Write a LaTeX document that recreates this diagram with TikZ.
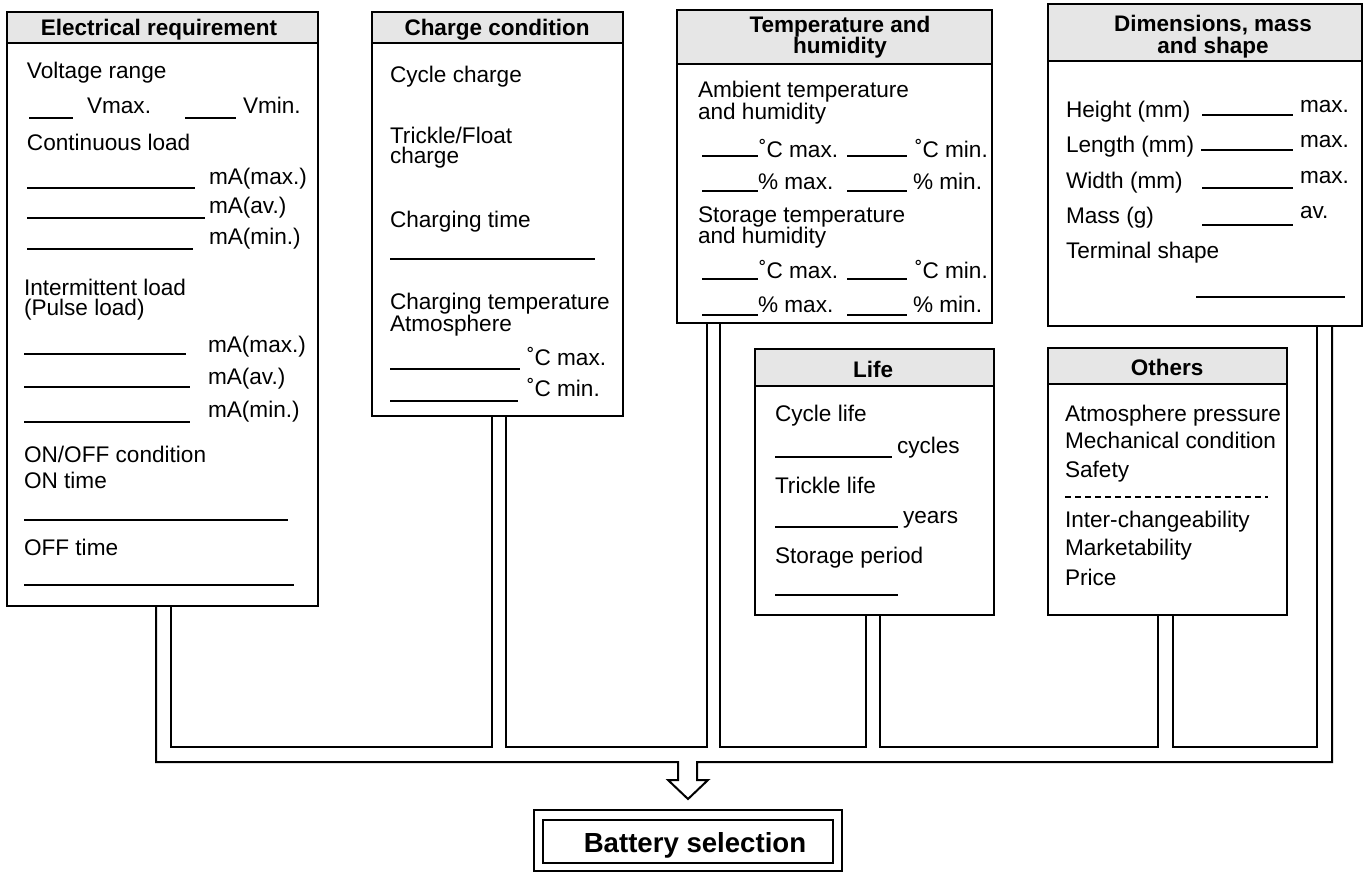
\documentclass[tikz,border=0pt]{standalone}
\usepackage{fontspec}
\setmainfont{Liberation Sans}
\usetikzlibrary{fit}
\definecolor{hdrgray}{HTML}{E6E6E6}
\begin{document}
\begin{tikzpicture}[x=1pt,y=-1pt,
  panel/.style={draw, line width=2.4pt, inner sep=0pt},
  hdrbox/.style={draw, fill=hdrgray, line width=2.4pt, inner sep=0pt},
  htxt/.style={font=\bfseries\fontsize{22.5}{24}\selectfont, anchor=base, inner sep=0pt},
  txt/.style={font=\fontsize{22.6}{24}\selectfont, anchor=base west, inner sep=0pt},
  blank/.style={line width=1.7pt},
  pipe/.style={line width=2pt},
  every node/.append style={outer sep=0pt}]
\useasboundingbox (0,0) rectangle (1367,873);

% ---------- pipes ----------
\draw[pipe] (156,606) -- (156,762) -- (678,762) -- (678,780) -- (668,780) -- (688,799)
  -- (708,780) -- (697,780) -- (697,762) -- (1332,762) -- (1332,326);
\draw[pipe] (171,606) -- (171,747) -- (492,747) -- (492,416);
\draw[pipe] (506,416) -- (506,747) -- (707,747) -- (707,323);
\draw[pipe] (720,323) -- (720,747) -- (866,747) -- (866,615);
\draw[pipe] (880,615) -- (880,747) -- (1158,747) -- (1158,615);
\draw[pipe] (1173,615) -- (1173,747) -- (1317,747) -- (1317,326);

% ---------- Electrical requirement ----------
\node[hdrbox, fit={(7,12) (318,43)}] (elecH) {};
\node[panel, fit={(7,12) (318,606)}] (elec) {};
\node[htxt] (elecT) at (159,35) {Electrical requirement};
\node[txt] (e1) at (27,78) {Voltage range};
\draw[blank] (29,118) -- (73,118);
\node[txt] (e2) at (87,113) {Vmax.};
\draw[blank] (185,118) -- (236,118);
\node[txt] (e3) at (243,113) {Vmin.};
\node[txt] (e4) at (27,150) {Continuous load};
\draw[blank] (27,188) -- (195,188);
\node[txt] (e5) at (209,184) {mA(max.)};
\draw[blank] (27,218) -- (205,218);
\node[txt] (e6) at (209,213) {mA(av.)};
\draw[blank] (27,249) -- (193,249);
\node[txt] (e7) at (209,244) {mA(min.)};
\node[txt] (e8) at (24,295) {Intermittent load};
\node[txt] (e9) at (24,315) {(Pulse load)};
\draw[blank] (24,354) -- (186,354);
\node[txt] (e10) at (208,352) {mA(max.)};
\draw[blank] (24,387) -- (190,387);
\node[txt] (e11) at (208,384) {mA(av.)};
\draw[blank] (24,422) -- (190,422);
\node[txt] (e12) at (208,417) {mA(min.)};
\node[txt] (e13) at (24,462) {ON/OFF condition};
\node[txt] (e14) at (24,488) {ON time};
\draw[blank] (24,520) -- (288,520);
\node[txt] (e15) at (24,555) {OFF time};
\draw[blank] (24,585) -- (294,585);

% ---------- Charge condition ----------
\node[hdrbox, fit={(372,12) (623,43)}] (chgH) {};
\node[panel, fit={(372,12) (623,416)}] (chg) {};
\node[htxt] (chgT) at (497,35) {Charge condition};
\node[txt] (c1) at (390,82) {Cycle charge};
\node[txt] (c2) at (390,143) {Trickle/Float};
\node[txt] (c3) at (390,163) {charge};
\node[txt] (c4) at (390,227) {Charging time};
\draw[blank] (390,259) -- (595,259);
\node[txt] (c5) at (390,309) {Charging temperature};
\node[txt] (c6) at (390,331) {Atmosphere};
\draw[blank] (390,369) -- (520,369);
\node[txt] (c7) at (527,365) {˚C max.};
\draw[blank] (390,401) -- (518,401);
\node[txt] (c8) at (527,396) {˚C min.};

% ---------- Temperature and humidity ----------
\node[hdrbox, fit={(677,10) (992,64)}] (tmpH) {};
\node[panel, fit={(677,10) (992,323)}] (tmp) {};
\node[htxt] (tmpT1) at (840,32) {Temperature and};
\node[htxt] (tmpT2) at (840,53) {humidity};
\node[txt] (t1) at (698,97) {Ambient temperature};
\node[txt] (t2) at (698,119) {and humidity};
\draw[blank] (702,156) -- (758,156);
\node[txt] (t3) at (759,157) {˚C max.};
\draw[blank] (847,156) -- (907,156);
\node[txt] (t4) at (915,157) {˚C min.};
\draw[blank] (702,191) -- (758,191);
\node[txt] (t5) at (758,189) {\% max.};
\draw[blank] (847,191) -- (907,191);
\node[txt] (t6) at (913,189) {\% min.};
\node[txt] (t7) at (698,222) {Storage temperature};
\node[txt] (t8) at (698,243) {and humidity};
\draw[blank] (702,279) -- (758,279);
\node[txt] (t9) at (759,278) {˚C max.};
\draw[blank] (847,279) -- (907,279);
\node[txt] (t10) at (915,278) {˚C min.};
\draw[blank] (702,315) -- (758,315);
\node[txt] (t11) at (758,312) {\% max.};
\draw[blank] (847,315) -- (907,315);
\node[txt] (t12) at (913,312) {\% min.};

% ---------- Dimensions, mass and shape ----------
\node[hdrbox, fit={(1048,4) (1362,61)}] (dimH) {};
\node[panel, fit={(1048,4) (1362,326)}] (dim) {};
\node[htxt] (dimT1) at (1213,31) {Dimensions, mass};
\node[htxt] (dimT2) at (1213,53) {and shape};
\node[txt] (d1) at (1066,117) {Height (mm)};
\draw[blank] (1202,115) -- (1293,115);
\node[txt] (d2) at (1300,112) {max.};
\node[txt] (d3) at (1066,152) {Length (mm)};
\draw[blank] (1201,150) -- (1293,150);
\node[txt] (d4) at (1300,147) {max.};
\node[txt] (d5) at (1066,188) {Width (mm)};
\draw[blank] (1202,188) -- (1293,188);
\node[txt] (d6) at (1300,183) {max.};
\node[txt] (d7) at (1066,223) {Mass (g)};
\draw[blank] (1202,225) -- (1293,225);
\node[txt] (d8) at (1300,218) {av.};
\node[txt] (d9) at (1066,258) {Terminal shape};
\draw[blank] (1196,297) -- (1345,297);

% ---------- Life ----------
\node[hdrbox, fit={(755,349) (994,386)}] (lifeH) {};
\node[panel, fit={(755,349) (994,615)}] (life) {};
\node[htxt] (lifeT) at (873,377) {Life};
\node[txt] (l1) at (775,421) {Cycle life};
\draw[blank] (775,457) -- (892,457);
\node[txt] (l2) at (897,453) {cycles};
\node[txt] (l3) at (775,493) {Trickle life};
\draw[blank] (775,527) -- (898,527);
\node[txt] (l4) at (903,523) {years};
\node[txt] (l5) at (775,563) {Storage period};
\draw[blank] (775,595) -- (898,595);

% ---------- Others ----------
\node[hdrbox, fit={(1048,348) (1287,384)}] (othH) {};
\node[panel, fit={(1048,348) (1287,615)}] (oth) {};
\node[htxt] (othT) at (1167,375) {Others};
\node[txt] (o1) at (1065,421) {Atmosphere pressure};
\node[txt] (o2) at (1065,448) {Mechanical condition};
\node[txt] (o3) at (1065,477) {Safety};
\draw[line width=1.5pt, dash pattern=on 6pt off 4pt] (1065,497) -- (1268,497);
\node[txt] (o4) at (1065,527) {Inter-changeability};
\node[txt] (o5) at (1065,555) {Marketability};
\node[txt] (o6) at (1065,585) {Price};

% ---------- Battery selection ----------
\node[panel, fit={(534,810) (842,871)}] (batO) {};
\node[panel, fit={(543,820) (833,863)}] (batI) {};
\node[font=\bfseries\fontsize{27.6}{30}\selectfont, anchor=base, inner sep=0pt] (batT) at (695,852) {Battery selection};
\end{tikzpicture}
\end{document}
